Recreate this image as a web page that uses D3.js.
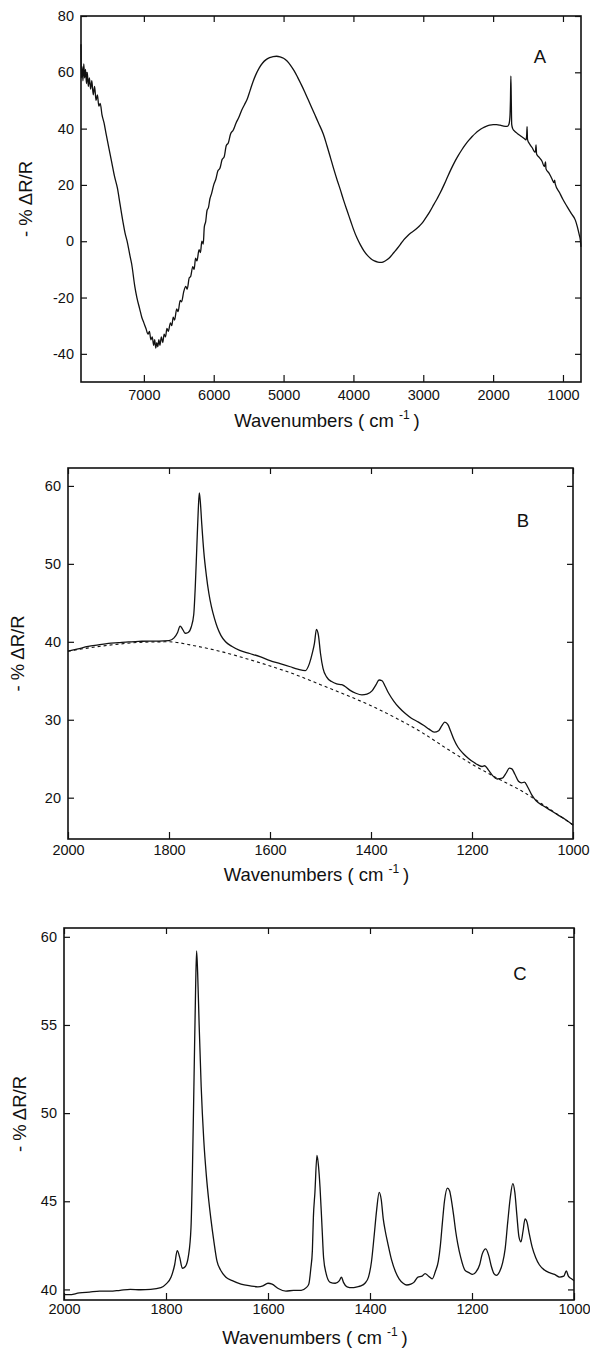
<!DOCTYPE html>
<html>
<head>
<meta charset="utf-8">
<script src="https://cdn.jsdelivr.net/npm/d3@7"></script>
<style>
  body { margin: 0; background: #fff; }
  text { font-family: "Liberation Sans", Arial, sans-serif; fill: #111; }
</style>
</head>
<body>
<svg id="fig"></svg>
<script>

// panel A : full range spectrum  [wavenumber, -%dR/R]
var specA = [
  [7900, 70], [7895, 58], [7885, 62], [7872, 57], [7860, 63], [7848, 58], [7835, 61], [7822, 56],
  [7810, 60], [7795, 55], [7780, 58], [7762, 54], [7745, 57], [7725, 52], [7705, 55], [7685, 50],
  [7665, 52], [7645, 48], [7625, 49], [7600, 45], [7570, 42], [7540, 38], [7500, 33], [7460, 28],
  [7420, 23], [7380, 19], [7340, 13], [7300, 7], [7270, 3], [7240, 0], [7200, -5], [7175, -8],
  [7130, -16], [7100, -20], [7060, -24], [7030, -27], [7000, -29], [6970, -31], [6940, -33],
  [6920, -32], [6900, -35], [6880, -34], [6860, -37], [6845, -35], [6830, -38], [6815, -36],
  [6800, -37.5], [6785, -35], [6770, -37], [6750, -34], [6730, -36], [6710, -33], [6690, -34],
  [6670, -31], [6650, -32], [6620, -29], [6600, -30], [6580, -27], [6560, -28], [6530, -24],
  [6510, -25], [6480, -21], [6460, -21.5], [6430, -18], [6400, -16], [6380, -17], [6350, -13],
  [6330, -12.5], [6300, -9], [6280, -10], [6260, -6], [6240, -7], [6210, -3], [6190, -4],
  [6170, 0], [6150, -1], [6135, 5], [6115, 7], [6095, 11], [6075, 12], [6055, 15], [6030, 17],
  [6000, 20], [5970, 22], [5940, 25], [5910, 26], [5880, 29], [5850, 30], [5820, 34], [5790, 35],
  [5760, 38], [5720, 39.5], [5680, 42], [5640, 44], [5600, 46.5], [5560, 48.5], [5520, 50.5],
  [5480, 53.5], [5440, 56.5], [5400, 59], [5350, 61.5], [5300, 63.3], [5250, 64.5], [5200, 65.2],
  [5150, 65.6], [5100, 65.7], [5050, 65.5], [5000, 65.0], [4950, 64.0], [4900, 62.5], [4850, 60.6],
  [4800, 58.3], [4750, 55.8], [4700, 53.2], [4650, 50.4], [4600, 47.6], [4550, 44.8], [4500, 42.0],
  [4430, 38.0], [4380, 34.0], [4330, 29.8], [4280, 25.5], [4230, 21.5], [4190, 18.5], [4140, 14.5],
  [4090, 10.8], [4040, 7.2], [4000, 4.3], [3950, 1.2], [3900, -1.3], [3850, -3.4], [3800, -5.0],
  [3750, -6.2], [3700, -7.0], [3650, -7.4], [3610, -7.5], [3570, -7.3], [3520, -6.6], [3470, -5.5],
  [3420, -4.0], [3370, -2.5], [3330, -1.2], [3280, 0.5], [3230, 1.8], [3180, 2.9], [3130, 3.8],
  [3090, 4.6], [3040, 5.8], [3000, 7.0], [2950, 8.8], [2900, 10.8], [2850, 13.0], [2800, 15.2],
  [2757, 17.2], [2700, 20.2], [2650, 23.0], [2600, 25.7], [2550, 28.2], [2500, 30.4], [2450, 32.4],
  [2400, 34.2], [2350, 35.8], [2300, 37.2], [2250, 38.4], [2200, 39.4], [2150, 40.2], [2100, 40.8],
  [2050, 41.2], [2000, 41.4], [1950, 41.4], [1900, 41.2], [1850, 40.9], [1800, 40.8], [1775, 41.5],
  [1760, 44], [1752, 50], [1746, 58.7], [1740, 50], [1734, 41.5], [1720, 40], [1700, 39.3],
  [1650, 38.2], [1600, 37.3], [1560, 36.6], [1530, 36.0], [1520, 37.5], [1514, 40.7], [1508, 36.2],
  [1480, 34.6], [1440, 33.2], [1400, 31.6], [1392, 32.4], [1386, 34.2], [1378, 31.0], [1340, 29.8],
  [1300, 28.4], [1268, 26.5], [1256, 27.5], [1250, 28.2], [1243, 25.7], [1200, 24.2], [1160, 22.3],
  [1128, 20.8], [1119, 21.7], [1110, 20.3], [1050, 17.3], [1000, 14.8], [941, 12.3], [880, 9.8],
  [823, 7.5], [795, 5.2], [770, 2.6], [751, 0.4], [742, -2]
];

// panel B : 2000-1000 region, measured curve and dashed background
var specB = [
  [2000, 38.8], [1980, 39.1], [1960, 39.4], [1940, 39.6], [1920, 39.8], [1900, 39.9], [1880, 40.0],
  [1860, 40.05], [1840, 40.1], [1820, 40.1], [1800, 40.15], [1790, 40.5], [1783, 41.2], [1778, 42.0],
  [1773, 41.6], [1768, 41.1], [1762, 41.2], [1756, 41.9], [1751, 43.5], [1748, 47], [1745, 52],
  [1742, 57], [1740, 59.1], [1738, 58], [1735, 55], [1731, 51.5], [1726, 48.5], [1721, 46.2],
  [1716, 44.5], [1710, 43], [1704, 41.8], [1697, 40.8], [1688, 40], [1675, 39.4], [1660, 38.9],
  [1640, 38.5], [1620, 38.1], [1600, 37.6], [1580, 37.2], [1560, 36.8], [1545, 36.5], [1530, 36.3],
  [1522, 37.2], [1516, 38.6], [1512, 39.8], [1508, 41.6], [1504, 40.8], [1500, 38.5], [1495, 36.6],
  [1488, 35.5], [1478, 34.9], [1468, 34.6], [1458, 34.5], [1452, 34.3], [1442, 33.8], [1430, 33.4],
  [1418, 33.2], [1408, 33.3], [1398, 33.7], [1390, 34.5], [1384, 35.1], [1378, 35.0], [1372, 34.3],
  [1365, 33.4], [1355, 32.4], [1345, 31.6], [1332, 30.8], [1320, 30.2], [1306, 29.7], [1296, 29.3],
  [1285, 28.8], [1275, 28.4], [1266, 28.6], [1260, 29.2], [1254, 29.7], [1248, 29.4], [1242, 28.5],
  [1236, 27.5], [1228, 26.5], [1218, 25.7], [1208, 25.1], [1198, 24.6], [1188, 24.2], [1180, 24.0],
  [1175, 24.1], [1168, 23.6], [1160, 22.9], [1150, 22.4], [1140, 22.5], [1132, 23.2], [1126, 23.8],
  [1121, 23.7], [1115, 23.0], [1108, 22.1], [1102, 21.9], [1096, 22.0], [1090, 21.4], [1082, 20.4],
  [1073, 19.6], [1060, 19.0], [1045, 18.4], [1030, 17.8], [1015, 17.2], [1000, 16.5]
];

var baseB = [
  [2000, 38.8], [1950, 39.3], [1900, 39.7], [1850, 39.95], [1800, 40.0], [1750, 39.5], [1700, 38.8],
  [1650, 37.9], [1600, 36.9], [1550, 35.8], [1500, 34.5], [1450, 33.2], [1400, 31.8], [1350, 30.2],
  [1300, 28.4], [1250, 26.3], [1200, 24.3], [1150, 22.5], [1100, 20.8], [1050, 18.7], [1000, 16.5]
];

// panel C : background subtracted spectrum
var specC = [
  [2000, 39.7], [1990, 39.7], [1970, 39.8], [1950, 39.85], [1930, 39.9], [1910, 39.9], [1890, 39.95],
  [1870, 40.0], [1850, 39.98], [1830, 40.0], [1810, 40.1], [1800, 40.3], [1790, 40.7], [1783, 41.4],
  [1778, 42.2], [1773, 41.8], [1768, 41.2], [1762, 41.3], [1756, 41.9], [1751, 43.5], [1748, 47],
  [1745, 52], [1742, 57], [1740, 59.2], [1738, 58], [1735, 55], [1731, 51.5], [1726, 48.5],
  [1721, 46.5], [1716, 45], [1712, 44], [1706, 42.7], [1700, 41.6], [1693, 41.1], [1683, 40.7],
  [1670, 40.5], [1653, 40.3], [1635, 40.2], [1620, 40.15], [1610, 40.2], [1600, 40.35], [1592, 40.3],
  [1580, 40.05], [1565, 39.9], [1550, 39.95], [1535, 39.95], [1525, 40.1], [1520, 40.3], [1516, 41.2],
  [1513, 42.2], [1511, 44.1], [1508, 45.5], [1504, 47.6], [1501, 47.0], [1498, 45.8], [1494, 43.5],
  [1491, 41.8], [1486, 40.9], [1478, 40.4], [1468, 40.35], [1460, 40.5], [1456, 40.7], [1452, 40.4],
  [1445, 40.15], [1435, 40.1], [1425, 40.15], [1418, 40.2], [1410, 40.35], [1403, 40.7], [1397, 41.6],
  [1392, 43.0], [1387, 44.5], [1382, 45.5], [1378, 45.1], [1374, 44.0], [1370, 43.3], [1365, 42.6],
  [1358, 41.7], [1350, 41.0], [1343, 40.6], [1335, 40.35], [1328, 40.25], [1320, 40.3], [1314, 40.4],
  [1306, 40.7], [1298, 40.75], [1292, 40.9], [1285, 40.75], [1278, 40.6], [1272, 41.0], [1266, 41.6],
  [1262, 42.5], [1258, 43.8], [1254, 45.0], [1248, 45.75], [1244, 45.6], [1240, 45.0], [1236, 44.2],
  [1232, 43.3], [1228, 42.6], [1222, 41.8], [1214, 41.1], [1206, 40.95], [1199, 40.85], [1192, 41.0],
  [1185, 41.4], [1180, 42.0], [1173, 42.3], [1167, 41.9], [1162, 41.3], [1157, 40.9], [1152, 40.8],
  [1146, 41.0], [1140, 41.5], [1135, 42.3], [1130, 43.8], [1125, 45.2], [1120, 46.0], [1116, 45.5],
  [1112, 44.2], [1108, 43.0], [1104, 42.7], [1100, 43.3], [1096, 44.0], [1092, 43.8], [1088, 43.2],
  [1082, 42.4], [1075, 41.8], [1068, 41.4], [1058, 41.1], [1048, 40.95], [1038, 40.85], [1028, 40.7],
  [1020, 40.75], [1015, 41.05], [1011, 40.75], [1005, 40.6], [1000, 40.5]
];

// tick labels
var xTicksA = [7000, 6000, 5000, 4000, 3000, 2000, 1000];
var yTicksA = [-40, -20, 0, 20, 40, 60, 80];
var xTicksB = [2000, 1800, 1600, 1400, 1200, 1000];
var yTicksB = [20, 30, 40, 50, 60];
var xTicksC = [2000, 1800, 1600, 1400, 1200, 1000];
var yTicksC = [40, 45, 50, 55, 60];

var xTitle = "Wavenumbers ( cm";
var yTitle = "- % \u0394R/R";

var svg = d3.select("#fig").attr("width", 590).attr("height", 1348);

function drawPanel(p) {
  var x = d3.scaleLinear().domain(p.xDomain).range([p.left, p.right]);
  var y = d3.scaleLinear().domain(p.yDomain).range([p.bottom, p.top]);
  var g = svg.append("g");

  // bottom + left axes with labels, ticks pointing inward
  var bx = g.append("g")
    .attr("transform", "translate(0," + p.bottom + ")")
    .call(d3.axisBottom(x).tickValues(p.xTicks).tickSize(-7).tickSizeOuter(0)
      .tickPadding(p.xPad).tickFormat(function(d) { return String(d); }));
  var ly = g.append("g")
    .attr("transform", "translate(" + p.left + ",0)")
    .call(d3.axisLeft(y).tickValues(p.yTicks).tickSize(-6).tickSizeOuter(0)
      .tickPadding(7).tickFormat(function(d) { return String(d); }));
  // top + right, ticks only
  var tx = g.append("g")
    .attr("transform", "translate(0," + p.top + ")")
    .call(d3.axisTop(x).tickValues(p.xTicks).tickSize(-6).tickSizeOuter(0).tickFormat(""));
  var ry = g.append("g")
    .attr("transform", "translate(" + p.right + ",0)")
    .call(d3.axisRight(y).tickValues(p.yTicks).tickSize(-6).tickSizeOuter(0).tickFormat(""));

  [bx, ly, tx, ry].forEach(function(a) {
    a.select(".domain").remove();
    a.selectAll("line").attr("stroke", "#111").attr("stroke-width", 1.2);
    a.selectAll("text").attr("font-size", "14.5px").attr("font-family", null).attr("fill", "#111");
  });

  // frame
  g.append("rect")
    .attr("x", p.left).attr("y", p.top)
    .attr("width", p.right - p.left).attr("height", p.bottom - p.top)
    .attr("fill", "none").attr("stroke", "#111").attr("stroke-width", 1.6);

  var line = d3.line()
    .x(function(d) { return x(d[0]); })
    .y(function(d) { return y(d[1]); })
    .curve(d3.curveMonotoneX);

  if (p.base) {
    g.append("path").datum(p.base)
      .attr("d", line).attr("fill", "none")
      .attr("stroke", "#111").attr("stroke-width", 1.1)
      .attr("stroke-dasharray", "3,3");
  }
  g.append("path").datum(p.data)
    .attr("d", line).attr("fill", "none")
    .attr("stroke", "#111").attr("stroke-width", 1.3)
    .attr("stroke-linejoin", "round");

  // panel letter
  g.append("text").attr("x", p.tagX).attr("y", p.tagY)
    .attr("text-anchor", "middle").attr("font-size", "18.5px").text(p.tag);

  // x title with superscript
  var t = g.append("text")
    .attr("x", (p.left + p.right) / 2 - 4)
    .attr("y", p.bottom + p.titleGap)
    .attr("text-anchor", "middle").attr("font-size", "18.5px");
  t.append("tspan").text(xTitle);
  t.append("tspan").attr("font-size", "12px").attr("dy", -8).attr("dx", 5).text("-1");
  t.append("tspan").attr("dy", 8).attr("dx", 4).text(")");

  // y title
  g.append("text")
    .attr("transform", "translate(" + p.yTitleX + "," + (p.top + p.bottom) / 2 + ") rotate(-90)")
    .attr("text-anchor", "middle").attr("dy", "0.35em")
    .attr("font-size", "18.5px").text(yTitle);
}

drawPanel({
  data: specA, xDomain: [7900, 742], yDomain: [-50, 80],
  left: 81, right: 581, top: 16, bottom: 382,
  xTicks: xTicksA, yTicks: yTicksA, xPad: 8, titleGap: 45,
  tag: "A", tagX: 540, tagY: 63, yTitleX: 26
});

drawPanel({
  data: specB, base: baseB, xDomain: [2000, 1000], yDomain: [14.7, 62.3],
  left: 68, right: 573, top: 468, bottom: 839,
  xTicks: xTicksB, yTicks: yTicksB, xPad: 6, titleGap: 42,
  tag: "B", tagX: 523, tagY: 527, yTitleX: 18
});

drawPanel({
  data: specC, xDomain: [2000, 1000], yDomain: [39.4, 60.5],
  left: 64, right: 574, top: 928, bottom: 1300,
  xTicks: xTicksC, yTicks: yTicksC, xPad: 4, titleGap: 44,
  tag: "C", tagX: 520, tagY: 980, yTitleX: 20
});

</script>
</body>
</html>
